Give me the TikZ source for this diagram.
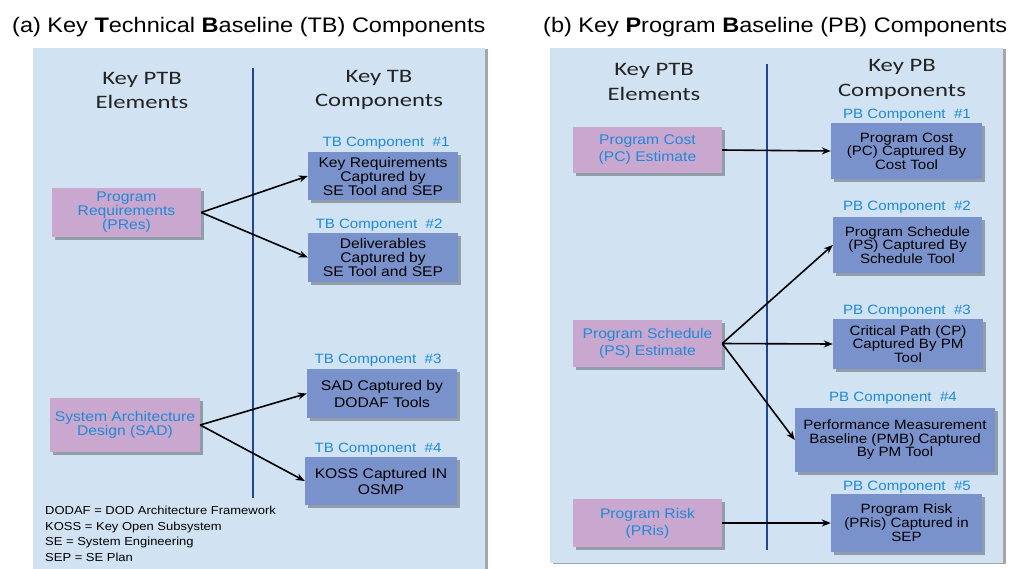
\documentclass[tikz,border=0pt]{standalone}
\usepackage{fontspec}
\setmainfont{Liberation Sans}[FakeStretch=1.12]
\newfontfamily\hdrfont{Carlito}[FakeStretch=1.3]
\usetikzlibrary{arrows.meta,shadows}
\definecolor{panelbg}{RGB}{209,227,243}
\definecolor{pinkbox}{RGB}{201,167,207}
\definecolor{bluebox}{RGB}{122,146,204}
\definecolor{lblblue}{RGB}{30,138,214}
\definecolor{divblue}{RGB}{30,70,150}
\definecolor{hdrgray}{RGB}{35,35,35}
\tikzset{
  shd/.style={drop shadow={shadow xshift=3pt,shadow yshift=-3pt,opacity=.3,fill=black}},
  panel/.style={fill=panelbg, draw=none, drop shadow={shadow xshift=3pt,shadow yshift=-1pt,opacity=.35,fill=black}},
  elem/.style={shd, fill=pinkbox, text=lblblue, inner sep=1pt, align=center, font=\fontsize{14}{14}\selectfont},
  comp/.style={shd, fill=bluebox, text=black, inner sep=1pt, align=center, font=\fontsize{14}{14}\selectfont},
  clabel/.style={text=lblblue, inner sep=0pt, font=\fontsize{13.5}{14}\selectfont},
  hdr/.style={text=hdrgray, align=center, font=\hdrfont\fontsize{19}{24}\selectfont},
  ttl/.style={text=black, anchor=west, inner sep=0pt, font=\fontsize{21}{24}\selectfont},
  legend/.style={text=black, anchor=north west, align=left, inner sep=0pt, font=\fontsize{11.6}{15.6}\selectfont},
  conn/.style={-{Stealth[length=9pt,width=7pt]}, line width=1.6pt, black},
  divider/.style={line width=1.5pt, divblue},
}
\begin{document}
\begin{tikzpicture}[x=1pt,y=-1pt]
\useasboundingbox (0,0) rectangle (1011,568);
% panels
\path[panel] (33,48) rectangle (485,572);
\path[panel] (550,48) rectangle (1003,563);
% titles
\node[ttl] (ta) at (12,27) {(a) Key \textbf{T}echnical \textbf{B}aseline (TB) Components};
\node[ttl] (tb) at (543,27) {(b) Key \textbf{P}rogram \textbf{B}aseline (PB) Components};
% dividers
\coordinate (da1) at (253,68); \coordinate (da2) at (253,498);
\coordinate (db1) at (767,64); \coordinate (db2) at (767,550);
\draw[divider] (da1) -- (da2);
\draw[divider] (db1) -- (db2);
% headers (a)
\node[hdr] (ha1) at (142,90) {Key PTB\\Elements};
\node[hdr] (ha2) at (379,90) {Key TB\\Components};
% headers (b)
\node[hdr, font=\hdrfont\fontsize{19}{25.5}\selectfont] (hb1) at (654,82) {Key PTB\\Elements};
\node[hdr, font=\hdrfont\fontsize{19}{25}\selectfont] (hb2) at (902,79.5) {Key PB\\Components};
% panel (a) nodes
\node[elem, minimum width=149pt, minimum height=49pt] (pres) at (126.5,212.5) {Program\\Requirements\\(PRes)};
\node[elem, minimum width=150pt, minimum height=54pt] (sad) at (125,425) {System Architecture\\Design (SAD)};
\node[comp, minimum width=150pt, minimum height=48pt] (tb1) at (383,176) {Key Requirements\\Captured by\\SE Tool and SEP};
\node[comp, minimum width=150pt, minimum height=49pt] (tb2) at (383,257.5) {Deliverables\\Captured by\\SE Tool and SEP};
\node[comp, minimum width=150pt, minimum height=49pt, font=\fontsize{14}{17}\selectfont] (tb3) at (382,393.5) {SAD Captured by\\DODAF Tools};
\node[comp, minimum width=152pt, minimum height=48pt, font=\fontsize{14}{16}\selectfont] (tb4) at (381,481) {KOSS Captured IN\\OSMP};
\node[clabel] (ltb1) at (386,143) {TB Component\ \ \#1};
\node[clabel] (ltb2) at (379,225) {TB Component\ \ \#2};
\node[clabel] (ltb3) at (378,360) {TB Component\ \ \#3};
\node[clabel] (ltb4) at (378,449) {TB Component\ \ \#4};
\draw[conn] (pres.east) -- (tb1.west);
\draw[conn] (pres.east) -- (tb2.west);
\draw[conn] (sad.east) -- (tb3.west);
\draw[conn] (sad.east) -- (tb4.west);
\node[legend] (leg) at (45,506) {DODAF = DOD Architecture Framework\\KOSS = Key Open Subsystem\\SE = System Engineering\\SEP = SE Plan};
% panel (b) nodes
\node[elem, minimum width=149pt, minimum height=46pt, font=\fontsize{14}{17}\selectfont] (pc) at (647.5,150) {Program Cost\\(PC) Estimate};
\node[elem, minimum width=149pt, minimum height=47pt, font=\fontsize{14}{17}\selectfont] (ps) at (647.5,343.5) {Program Schedule\\(PS) Estimate};
\node[elem, minimum width=149pt, minimum height=48pt, font=\fontsize{14}{17}\selectfont] (pris) at (647.5,523) {Program Risk\\(PRis)};
\node[comp, minimum width=151pt, minimum height=56pt, font=\fontsize{13.5}{13.5}\selectfont] (pb1) at (906.5,151) {Program Cost\\(PC) Captured By\\Cost Tool};
\node[comp, minimum width=149pt, minimum height=56pt, font=\fontsize{13.5}{13.5}\selectfont] (pb2) at (907.5,245) {Program Schedule\\(PS) Captured By\\Schedule Tool};
\node[comp, minimum width=150pt, minimum height=50pt, font=\fontsize{13.5}{13.5}\selectfont] (pb3) at (908,344) {Critical Path (CP)\\Captured By PM\\Tool};
\node[comp, minimum width=200pt, minimum height=64pt, font=\fontsize{13.5}{13.5}\selectfont] (pb4) at (895,440) {Performance Measurement\\Baseline (PMB) Captured\\By PM Tool};
\node[comp, minimum width=151pt, minimum height=58pt, font=\fontsize{13.5}{14}\selectfont] (pb5) at (906.5,523) {Program Risk\\(PRis) Captured in\\SEP};
\node[clabel] (lpb1) at (907,115) {PB Component\ \ \#1};
\node[clabel] (lpb2) at (907,207) {PB Component\ \ \#2};
\node[clabel] (lpb3) at (907,311) {PB Component\ \ \#3};
\node[clabel] (lpb4) at (893,398) {PB Component\ \ \#4};
\node[clabel] (lpb5) at (907,487) {PB Component\ \ \#5};
\draw[conn] (pc.east) -- (pb1.west);
\draw[conn] (ps.east) -- (pb2.west);
\draw[conn] (ps.east) -- (pb3.west);
\draw[conn] (ps.east) -- (pb4.west);
\draw[conn] (pris.east) -- (pb5.west);
\end{tikzpicture}
\end{document}
